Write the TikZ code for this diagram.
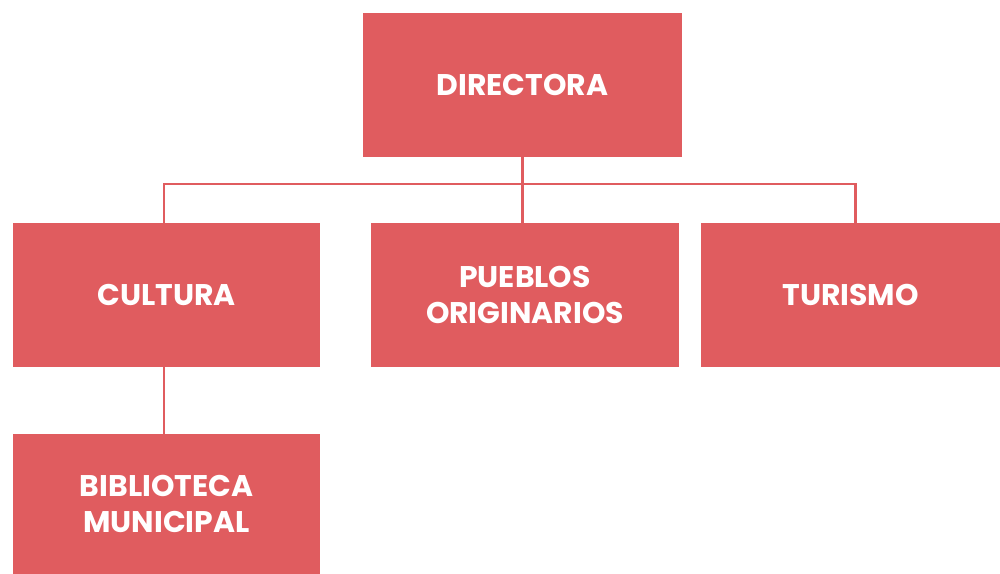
\documentclass[tikz,border=0pt]{standalone}
\usepackage{fontspec}
\setmainfont{Poppins}
\definecolor{boxred}{HTML}{E05C5F}
\tikzset{
  unit/.style={fill=boxred, text=white, font=\bfseries\fontsize{17}{20}\selectfont,
    align=center, inner sep=0pt, minimum height=2.88cm},
  link/.style={draw=boxred, line width=1.7pt}
}
\begin{document}
\begin{tikzpicture}[x=0.02cm, y=-0.02cm]
\useasboundingbox (0, 0) rectangle (1000, 574);
% boxes
\node[unit, minimum width=6.38cm] (dir) at (522.5, 85) {DIRECTORA};
\node[unit, minimum width=6.14cm] (cult) at (166.5, 295) {CULTURA};
\node[unit, minimum width=6.16cm] (pueb) at (525, 295) {PUEBLOS\\ORIGINARIOS};
\node[unit, minimum width=5.98cm] (tur) at (850.5, 295) {TURISMO};
\node[unit, minimum width=6.14cm, minimum height=2.80cm] (bib) at (166.5, 504) {BIBLIOTECA\\MUNICIPAL};
% connectors
\coordinate (bus) at (0, 184);
\coordinate (cdrop) at (164, 223);
\coordinate (tdrop) at (855, 223);
\draw[link] (dir.south) -- (dir.south |- bus);
\draw[link] (cdrop) |- (bus -| tdrop) -- (tdrop);
\draw[link] (pueb.north -| dir.south) -- (dir.south |- bus);
\draw[link] (cult.south -| cdrop) -- (bib.north -| cdrop);
\end{tikzpicture}
\end{document}
